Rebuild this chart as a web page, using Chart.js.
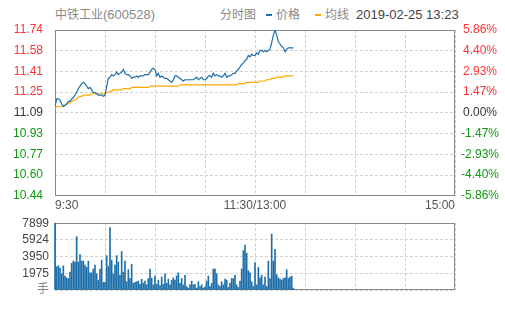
<!DOCTYPE html>
<html>
<head>
<meta charset="utf-8">
<script src="https://cdn.jsdelivr.net/npm/chart.js@4.4.1/dist/chart.umd.min.js"></script>
<style>
body { margin: 0; width: 505px; height: 310px; background: #fff; position: relative; overflow: hidden;
  font-family: "Liberation Sans", "Noto Sans CJK SC", sans-serif; }
.hd { position: absolute; top: 7px; line-height: 16px; font-size: 13px; white-space: nowrap; }
.cjk { font-size: 12px; }
.dash { position: absolute; top: 14px; width: 6px; height: 2px; }
canvas { position: absolute; left: 0; }
#priceChart { top: 0; }
#volChart { top: 210px; }
</style>
</head>
<body>
<div class="hd" style="left:55px;color:#888"><span class="cjk">中铁工业</span>(600528)</div>
<div class="hd cjk" style="left:220px;color:#888">分时图</div>
<div class="dash" style="left:266px;background:#1f6fab"></div>
<div class="hd cjk" style="left:276px;color:#888">价格</div>
<div class="dash" style="left:315px;background:#ffa800"></div>
<div class="hd cjk" style="left:325px;color:#888">均线</div>
<div class="hd" style="left:356px;color:#444">2019-02-25 13:23</div>
<canvas id="priceChart" width="505" height="215"></canvas>
<canvas id="volChart" width="505" height="100"></canvas>
<script>
const PRICE_MIN = 10.44;
const PRICE_MAX = 11.74;
const PCT_MAX = 5.86;
const VOL_MAX = 7899;
const MINUTES = 240;

const priceTickLabels = ['10.44', '10.60', '10.77', '10.93', '11.09', '11.25', '11.41', '11.58', '11.74'];
const pctTickLabels = ['-5.86%', '-4.40%', '-2.93%', '-1.47%', '0.00%', '1.47%', '2.93%', '4.40%', '5.86%'];
const volTickLabels = ['手', '1975', '3950', '5924', '7899'];
const timeTickLabels = ['9:30', '11:30/13:00', '15:00'];

// one value per minute from 9:30 up to 13:23
const prices = [
  11.14, 11.20, 11.20, 11.19, 11.16, 11.14, 11.15, 11.16, 11.18, 11.18,
  11.20, 11.21, 11.23, 11.25, 11.28, 11.30, 11.32, 11.33, 11.32, 11.30,
  11.28, 11.29, 11.27, 11.25, 11.25, 11.24, 11.23, 11.23, 11.23, 11.22,
  11.23, 11.30, 11.36, 11.37, 11.39, 11.38, 11.39, 11.41, 11.39, 11.40,
  11.41, 11.43, 11.40, 11.39, 11.39, 11.38, 11.36, 11.37, 11.37, 11.38,
  11.37, 11.38, 11.38, 11.38, 11.39, 11.39, 11.39, 11.41, 11.43, 11.44,
  11.43, 11.38, 11.40, 11.37, 11.38, 11.37, 11.36, 11.36, 11.35, 11.34,
  11.33, 11.35, 11.38, 11.38, 11.37, 11.36, 11.35, 11.34, 11.35, 11.35,
  11.35, 11.35, 11.35, 11.35, 11.36, 11.37, 11.35, 11.36, 11.37, 11.35,
  11.35, 11.36, 11.38, 11.38, 11.37, 11.40, 11.38, 11.39, 11.38, 11.38,
  11.37, 11.38, 11.40, 11.37, 11.38, 11.38, 11.39, 11.40, 11.40, 11.42,
  11.43, 11.45, 11.47, 11.48, 11.50, 11.51, 11.54, 11.53, 11.55, 11.54,
  11.54, 11.56, 11.55, 11.58, 11.58, 11.57, 11.58, 11.57, 11.58, 11.59,
  11.64, 11.70, 11.74, 11.70, 11.65, 11.63, 11.61, 11.60, 11.57, 11.59,
  11.60, 11.60, 11.60, 11.60
];
const avgPrices = [
  11.13, 11.14, 11.14, 11.14, 11.14, 11.15, 11.15, 11.16, 11.16, 11.17,
  11.18, 11.19, 11.19, 11.20, 11.21, 11.22, 11.22, 11.23, 11.23, 11.23,
  11.23, 11.23, 11.24, 11.24, 11.24, 11.24, 11.24, 11.24, 11.24, 11.24,
  11.24, 11.25, 11.25, 11.26, 11.26, 11.27, 11.27, 11.27, 11.27, 11.27,
  11.27, 11.28, 11.28, 11.28, 11.28, 11.28, 11.29, 11.29, 11.29, 11.29,
  11.29, 11.29, 11.29, 11.29, 11.29, 11.29, 11.29, 11.30, 11.30, 11.30,
  11.30, 11.30, 11.30, 11.30, 11.30, 11.30, 11.30, 11.30, 11.30, 11.30,
  11.30, 11.30, 11.30, 11.30, 11.30, 11.31, 11.31, 11.31, 11.31, 11.31,
  11.31, 11.31, 11.31, 11.31, 11.31, 11.31, 11.31, 11.31, 11.31, 11.31,
  11.31, 11.31, 11.31, 11.31, 11.31, 11.31, 11.31, 11.31, 11.31, 11.31,
  11.31, 11.31, 11.31, 11.31, 11.31, 11.31, 11.31, 11.31, 11.31, 11.31,
  11.32, 11.32, 11.32, 11.32, 11.32, 11.33, 11.33, 11.33, 11.33, 11.33,
  11.33, 11.33, 11.33, 11.34, 11.34, 11.34, 11.34, 11.35, 11.35, 11.35,
  11.36, 11.36, 11.36, 11.37, 11.37, 11.37, 11.37, 11.37, 11.38, 11.38,
  11.38, 11.38, 11.38, 11.38
];
const volumes = [
  7899, 2745, 2858, 2594, 1918, 2858, 1654, 1429, 1354, 2106,
  3158, 3422, 3309, 6317, 3309, 4174, 3422, 3422, 2933, 2670,
  3422, 2030, 2030, 2482, 2933, 1918, 1166, 2482, 3534, 902,
  902, 4061, 2782, 7370, 3534, 1918, 2933, 4061, 3309, 1730,
  4550, 2106, 3422, 978, 2406, 1354, 3046, 790, 902, 978,
  1053, 677, 1278, 790, 1053, 602, 1354, 2482, 1429, 602,
  1654, 677, 1166, 526, 1542, 677, 1918, 790, 1278, 602,
  1166, 1429, 1166, 1654, 2030, 790, 1354, 602, 1730, 414,
  226, 602, 1053, 602, 677, 226, 978, 414, 602, 226,
  376, 1053, 1654, 414, 790, 2482, 2482, 1918, 602, 414,
  978, 602, 1278, 1166, 301, 790, 1354, 1354, 1730, 602,
  301, 1053, 2482, 4662, 5302, 4362, 2294, 2030, 978, 414,
  3234, 602, 2670, 1429, 1730, 602, 1542, 414, 3422, 1354,
  6618, 3422, 4813, 1805, 1429, 1278, 1166, 1354, 1429, 2406,
  1354, 1542, 1654, 226
];

const BLUE = '#1f6fab';
const ORANGE = '#ffa800';
const RED = '#ff3333';
const GREEN = '#119911';
const DARK = '#333';
const GRID = '#d0d0d0';
const FONT = { family: '"Liberation Sans", "Noto Sans CJK SC", sans-serif', size: 12 };

Chart.defaults.font = FONT;
Chart.defaults.animation = false;

function evenTicks(min, max, count) {
  const ticks = [];
  for (let k = 0; k < count; k++) ticks.push({ value: min + k * (max - min) / (count - 1) });
  return ticks;
}
function tickColor(ctx) {
  if (ctx.index < 4) return GREEN;
  if (ctx.index === 4) return DARK;
  return RED;
}
function toPoints(values) {
  return values.map((v, i) => ({ x: i, y: v }));
}

const framePlugin = {
  id: 'frame',
  beforeDatasetsDraw(chart) {
    const { ctx, chartArea: a } = chart;
    ctx.save();
    ctx.strokeStyle = '#888';
    ctx.lineWidth = 1;
    ctx.strokeRect(Math.round(a.left) + 0.5, Math.round(a.top) + 0.5,
      Math.round(a.right - a.left) - 1, Math.round(a.bottom - a.top) - 1);
    ctx.restore();
  }
};

function timeAxis(showLabels, height) {
  return {
    type: 'linear',
    min: 0,
    max: MINUTES,
    offset: false,
    afterBuildTicks: (scale) => { scale.ticks = evenTicks(0, MINUTES, 9); },
    afterFit: (scale) => { scale.height = height; },
    grid: { color: GRID, drawTicks: false, offset: false },
    border: { display: false, dash: [3, 2] },
    ticks: {
      display: showLabels,
      autoSkip: false,
      maxRotation: 0,
      align: 'inner',
      padding: 3,
      color: '#555',
      callback: (v) => (v % 120 === 0 ? timeTickLabels[v / 120] : '')
    }
  };
}

new Chart(document.getElementById('priceChart'), {
  type: 'line',
  data: {
    datasets: [
      { data: toPoints(prices), borderColor: BLUE, borderWidth: 1.2, pointRadius: 0, tension: 0, yAxisID: 'y' },
      { data: toPoints(avgPrices), borderColor: ORANGE, borderWidth: 1.2, pointRadius: 0, tension: 0, yAxisID: 'y' }
    ]
  },
  options: {
    responsive: false,
    layout: { padding: { top: 30, left: 0, right: 0, bottom: 0 } },
    plugins: { legend: { display: false }, tooltip: { enabled: false } },
    scales: {
      x: timeAxis(true, 16),
      y: {
        position: 'left',
        min: PRICE_MIN,
        max: PRICE_MAX,
        afterBuildTicks: (scale) => { scale.ticks = evenTicks(PRICE_MIN, PRICE_MAX, 9); },
        afterFit: (scale) => { scale.width = 55; },
        grid: { color: GRID, drawTicks: false },
        border: { display: false, dash: [3, 2] },
        ticks: { autoSkip: false, padding: 12, color: tickColor, callback: (v, i) => priceTickLabels[i] }
      },
      yPct: {
        position: 'right',
        min: -PCT_MAX,
        max: PCT_MAX,
        afterBuildTicks: (scale) => { scale.ticks = evenTicks(-PCT_MAX, PCT_MAX, 9); },
        afterFit: (scale) => { scale.width = 50; },
        grid: { display: false, drawTicks: false },
        border: { display: false },
        ticks: { autoSkip: false, padding: 6, crossAlign: 'center', color: tickColor, callback: (v, i) => pctTickLabels[i] }
      }
    }
  },
  plugins: [framePlugin]
});

new Chart(document.getElementById('volChart'), {
  type: 'bar',
  data: {
    datasets: [
      { data: toPoints(volumes), backgroundColor: BLUE, barThickness: 1, clip: false }
    ]
  },
  options: {
    responsive: false,
    layout: { padding: { top: 10, left: 0, right: 50, bottom: 0 } },
    plugins: { legend: { display: false }, tooltip: { enabled: false } },
    scales: {
      x: timeAxis(false, 20),
      y: {
        position: 'left',
        min: 0,
        max: VOL_MAX,
        afterBuildTicks: (scale) => { scale.ticks = evenTicks(0, VOL_MAX, 5); },
        afterFit: (scale) => { scale.width = 55; },
        grid: { color: GRID, drawTicks: false },
        border: { display: false, dash: [3, 2] },
        ticks: {
          autoSkip: false,
          padding: 6,
          color: (ctx) => (ctx.index === 0 ? '#888' : '#444'),
          callback: (v, i) => volTickLabels[i]
        }
      }
    }
  },
  plugins: [framePlugin]
});
</script>
</body>
</html>
